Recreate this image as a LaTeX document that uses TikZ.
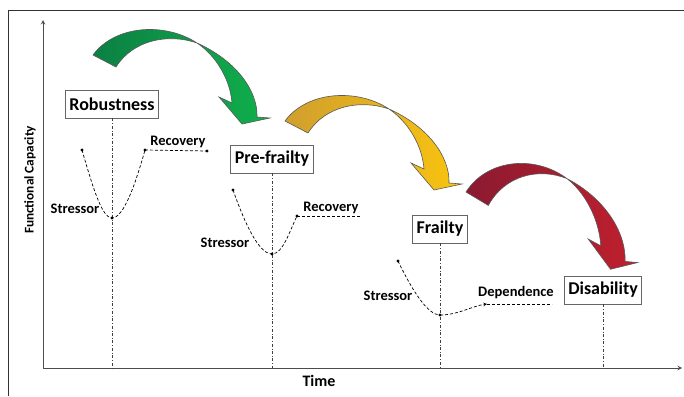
\documentclass[tikz,border=0pt]{standalone}
\usepackage{fontspec}
\setmainfont{Carlito}
\usetikzlibrary{arrows}

\definecolor{greenback}{HTML}{0B8043}
\definecolor{greenfront}{HTML}{10B04C}
\definecolor{goldback}{HTML}{D09F2E}
\definecolor{goldfront}{HTML}{FAC40E}
\definecolor{redback}{HTML}{8A1A30}
\definecolor{redfront}{HTML}{C0202E}

% curved block arrow, drawn from the outer corner of its tail
\newcommand{\bendarrow}[3]{%
  \shade[#1, left color=#2, right color=#3, draw=black!65, line width=0.6pt]
    (0,0) .. controls (22,-30) and (72,-33) .. (104,-12)
    .. controls (142,5) and (165,35) .. (164,62)
    -- (177,63) -- (149,69) -- (126,42) -- (139,48)
    .. controls (137,23) and (122,0) .. (104,-12)
    .. controls (75,-22) and (40,-15) .. (23,12) -- cycle;}

\begin{document}
\begin{tikzpicture}[x=1pt, y=-1pt, >=stealth,
  stage/.style={draw=black!60, line width=0.8pt, fill=white,
    font=\fontsize{18}{20}\selectfont\bfseries, minimum height=28pt, inner xsep=4pt},
  lbl/.style={font=\fontsize{14.5}{16}\selectfont\bfseries},
  guide/.style={dash dot, black!75, line width=0.5pt},
  course/.style={densely dashed, line width=0.7pt}]

\useasboundingbox (0,0) rectangle (684,396);

% frame and axes
\draw[line width=0.8pt, black!80] (8,396) -- (8,10) -- (684,10);
\coordinate (o) at (43,368);
\coordinate (xend) at (682,368);
\coordinate (yend) at (43,20);
\draw[->, line width=1pt, black!70] (o) -- (xend);
\draw[->, line width=1pt, black!70] (o) -- (yend);
\node[font=\fontsize{16}{18}\selectfont\bfseries] (time) at (319,381) {Time};
\node[rotate=90, font=\fontsize{13.3}{15}\selectfont\bfseries] (fc) at (30,180) {Functional Capacity};

% stages
\node[stage] (rob) at (112,104) {Robustness};
\node[stage] (pre) at (272,159) {Pre-frailty};
\node[stage] (fra) at (440,229) {Frailty};
\node[stage] (dis) at (603,290) {Disability};

\draw[guide] (rob.south) -- (rob.south |- o);
\draw[guide] (pre.south) -- (pre.south |- o);
\draw[guide] (fra.south) -- (fra.south |- o);
\draw[guide] (dis.south) -- (dis.south |- o);

% robustness
\coordinate (s1) at (82,150);
\coordinate (m1) at (112,218);
\coordinate (r1) at (145,150);
\coordinate (e1) at (207,151);
\draw[course] (s1) .. controls (93,188) and (102,218) .. (m1)
  .. controls (124,218) and (136,182) .. (r1);
\draw[course] (r1) -- (e1);
\fill (s1) circle (1.7pt);
\fill (m1) circle (1.7pt);
\fill (r1) circle (1.7pt);
\fill (e1) circle (1.7pt);
\node[lbl] (str1) at (75,209) {Stressor};
\node[lbl] (rec1) at (178,142) {Recovery};

% pre-frailty
\coordinate (s2) at (233,190);
\coordinate (m2) at (272,254);
\coordinate (r2) at (297,216);
\coordinate (e2) at (360,216);
\draw[course] (s2) .. controls (245,224) and (259,254) .. (m2)
  .. controls (283,254) and (290,230) .. (r2);
\draw[course] (r2) -- (e2);
\fill (s2) circle (1.7pt);
\fill (m2) circle (1.7pt);
\fill (r2) circle (1.7pt);
\node[lbl] (str2) at (225,243) {Stressor};
\node[lbl] (rec2) at (331,208) {Recovery};

% frailty
\coordinate (s3) at (398,261);
\coordinate (m3) at (440,315);
\coordinate (a3) at (487,304);
\coordinate (e3) at (552,304);
\draw[course] (s3) .. controls (413,292) and (428,315) .. (m3);
\draw[course, ->] (m3) .. controls (458,315) and (472,306) .. (a3);
\draw[course] (a3) -- (e3);
\fill (s3) circle (1.7pt);
\fill (m3) circle (1.7pt);
\node[lbl] (str3) at (388,296) {Stressor};
\node[lbl] (dep) at (516,293) {Dependence};

% transitions
\bendarrow{shift={(93,55)}}{greenback}{greenfront}
\bendarrow{shift={(285,121)}}{goldback}{goldfront}
\bendarrow{shift={(466,192)}, xscale=0.97, yscale=1.12}{redback}{redfront}

\end{tikzpicture}
\end{document}
